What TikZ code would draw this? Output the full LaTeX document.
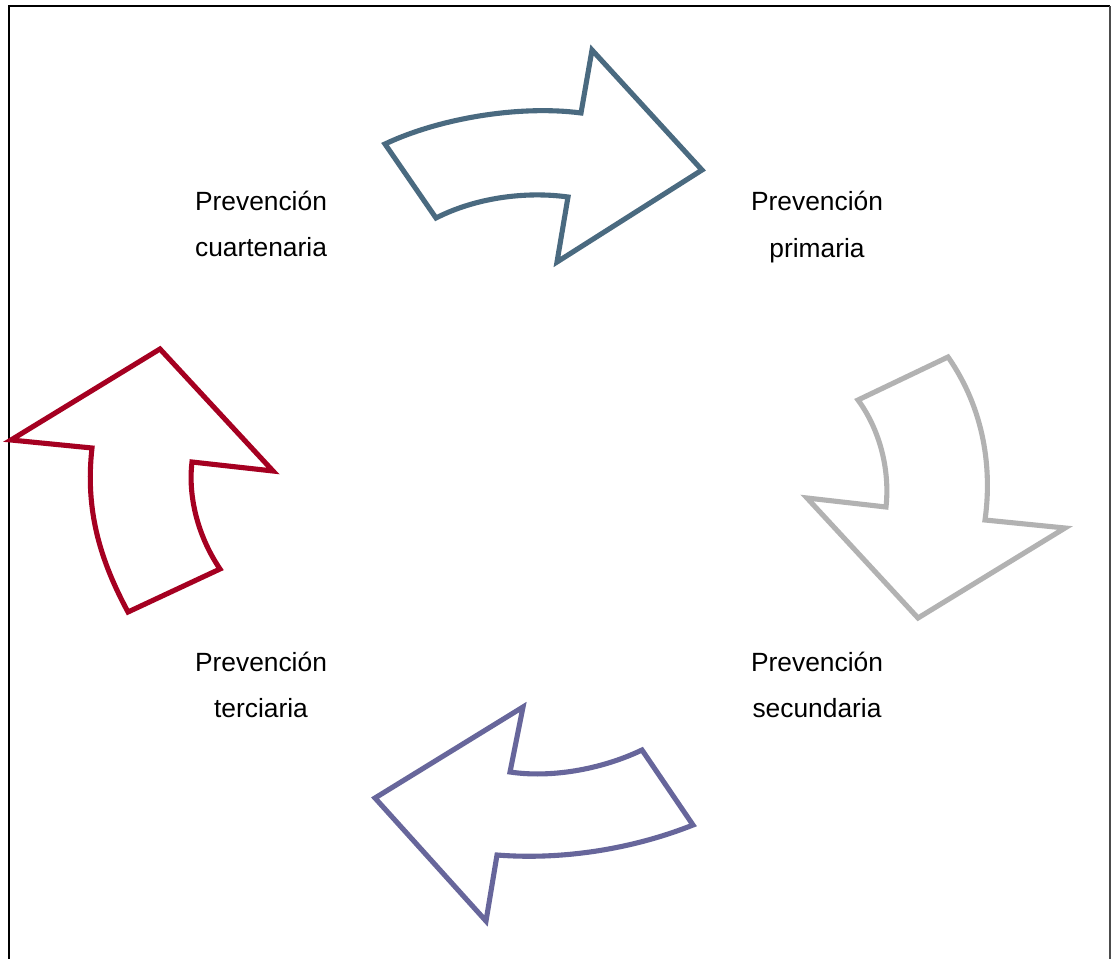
\documentclass[tikz,border=0pt]{standalone}
\usepackage{fontspec}
\setmainfont{Liberation Sans}
\usetikzlibrary{calc}

\definecolor{flechaazul}{RGB}{74,106,128}
\definecolor{flechagris}{RGB}{178,178,178}
\definecolor{flechamorada}{RGB}{103,102,155}
\definecolor{flecharoja}{RGB}{165,0,33}

\tikzset{
  flecha/.style={line width=2.9pt, line join=miter, miter limit=4, draw=#1, fill=white},
  etiqueta/.style={align=center, font=\fontsize{15}{26.5}\selectfont, inner sep=0pt}
}

\begin{document}
\begin{tikzpicture} [x=0.02cm, y=-0.02cm]
\useasboundingbox (0,0) rectangle (1112,959);
\clip (0,0) rectangle (1112,959);
\fill[white] (0,0) rectangle (1112,959);
% marco
\draw[black, line width=1.2pt] (9,970) -- (9,6) -- (1110,6);
\draw[black!70, line width=0.6pt] (1110,6) -- (1110,970);

% flechas
\draw[flecha=flechaazul] (385,144) .. controls (440,118) and (520,105) .. (581,113)
  -- (592,50) -- (702,170) -- (557,262) -- (568,197)
  .. controls (525,191) and (475,198) .. (436,218) -- cycle;
\draw[flecha=flechagris] (858,400) .. controls (880,430) and (890,470) .. (886,507)
  -- (807,498) -- (918,618) -- (1065,528) -- (985,520)
  .. controls (992,470) and (985,410) .. (948,357) -- cycle;
\draw[flecha=flechamorada] (642,750) -- (693,825)
  .. controls (630,850) and (560,860) .. (497,855)
  -- (486,921) -- (375,798) -- (523,707) -- (510,772)
  .. controls (550,778) and (600,770) .. cycle;
\draw[flecha=flecharoja] (128,612) -- (220,569)
  .. controls (197,535) and (188,495) .. (192,462)
  -- (273,471) -- (160,349) -- (11,440) -- (92,448)
  .. controls (85,510) and (100,560) .. cycle;

% textos
\node[etiqueta] (cuartenaria) at (261,224) {Prevención\\cuartenaria};
\node[etiqueta] (primaria) at (817,227) {Prevención\\primaria};
\node[etiqueta] (secundaria) at (817,685) {Prevención\\secundaria};
\node[etiqueta] (terciaria) at (261,685) {Prevención\\terciaria};
\end{tikzpicture}
\end{document}
